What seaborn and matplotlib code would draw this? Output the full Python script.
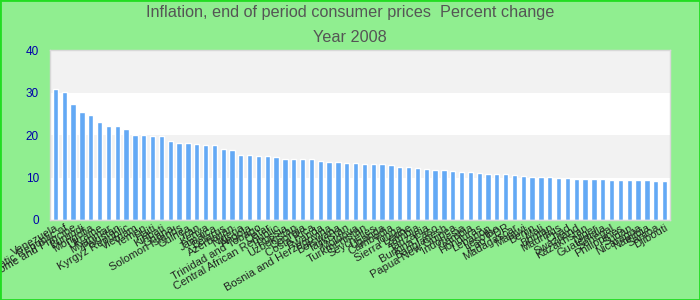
import matplotlib
matplotlib.use("Agg")
import matplotlib.pyplot as plt
import seaborn as sns
import pandas as pd
from matplotlib.patches import Rectangle

countries = [
    "Venezuela", "Congo, Democratic Republic of", "Sao Tome and Principe", "Burundi",
    "Mongolia", "Ukraine", "Myanmar", "Pakistan", "Kyrgyz Republic", "Vietnam",
    "Yemen", "Haiti", "Kiribati", "Ghana", "Solomon Islands", "Guinea", "Iran",
    "Kenya", "Jamaica", "Belarus", "Azerbaijan", "Nigeria", "Angola",
    "Trinidad and Tobago", "Qatar", "Central African Republic", "Russia",
    "Uzbekistan", "Georgia", "Costa Rica", "Rwanda", "Bosnia and Herzegovina",
    "Botswana", "Tajikistan", "Moldova", "Turkmenistan", "Seychelles", "Uganda",
    "Cambodia", "Tonga", "Sierra Leone", "Zambia", "Tanzania", "Burkina Faso",
    "Bangladesh", "Papua New Guinea", "Indonesia", "Gambia", "Honduras",
    "Lebanon", "Lesotho", "Lao PDR", "Madagascar", "Malawi", "Benin", "Mali",
    "Bhutan", "Mauritius", "Chad", "Swaziland", "Kazakhstan", "Niger",
    "Guatemala", "Senegal", "Philippines", "Sudan", "Nicaragua", "Namibia",
    "Samoa", "Djibouti",
]
values = [
    30.8, 30.1, 27.3, 25.4, 24.7, 23.1, 22.1, 22.1, 21.4, 20.0,
    20.0, 19.8, 19.8, 18.6, 18.1, 18.1, 17.9, 17.6, 17.6, 16.7,
    16.5, 15.3, 15.3, 15.1, 15.1, 14.8, 14.4, 14.4, 14.4, 14.4,
    13.9, 13.6, 13.6, 13.4, 13.4, 13.2, 13.2, 13.2, 12.9, 12.5,
    12.5, 12.2, 12.0, 11.8, 11.8, 11.5, 11.3, 11.3, 11.1, 10.8,
    10.8, 10.8, 10.6, 10.4, 10.1, 10.1, 10.1, 9.9, 9.9, 9.6,
    9.6, 9.6, 9.6, 9.4, 9.4, 9.4, 9.4, 9.4, 9.2, 9.2,
]
y_ticks = [0, 10, 20, 30, 40]
title_lines = ["Inflation, end of period consumer prices  Percent change", "Year 2008"]

sns.set_theme(style="white")
plt.rcParams["font.family"] = ["Liberation Sans", "DejaVu Sans"]

df = pd.DataFrame({"country": countries, "value": values})

fig = plt.figure(figsize=(7, 3), dpi=100)
fig.patch.set_facecolor("#90ee90")
ax = fig.add_axes([50 / 700, 80 / 300, 620 / 700, 170 / 300])
ax.set_facecolor("white")

band_colors = ["white", "#f2f2f2", "white", "#f2f2f2"]
for lo, hi, c in zip(y_ticks[:-1], y_ticks[1:], band_colors):
    ax.axhspan(lo, hi, color=c, zorder=0, lw=0)

sns.barplot(data=df, x="country", y="value", order=countries, color="#63a9f5",
            width=0.6, saturation=1, ax=ax, zorder=2)

ax.set_xlim(-0.62, len(countries) - 0.38)
ax.set_ylim(0, 40)
ax.set_yticks(y_ticks)
ax.set_yticklabels([str(t) for t in y_ticks], color="#0000aa", fontsize=8.5)
ax.tick_params(axis="y", length=0, pad=8)
ax.tick_params(axis="x", length=0, pad=2)
ax.set_xticks(range(len(countries)))
ax.set_xticklabels(countries, rotation=30, ha="right", rotation_mode="anchor",
                   fontsize=8, color="#222222")
ax.set_xlabel("")
ax.set_ylabel("")
for s in ax.spines.values():
    s.set_color("#d8d8d8")
    s.set_linewidth(1)

fig.text(0.5, 1 - 13 / 300, title_lines[0], ha="center", va="center",
         fontsize=11.7, color="#555555")
fig.text(0.5, 1 - 37 / 300, title_lines[1], ha="center", va="center",
         fontsize=11.7, color="#555555")

fig.patches.append(Rectangle((0, 0), 1, 1, transform=fig.transFigure,
                             fill=False, edgecolor="#22dd22", lw=2))

fig.savefig("out.png", dpi=100, facecolor=fig.get_facecolor())
